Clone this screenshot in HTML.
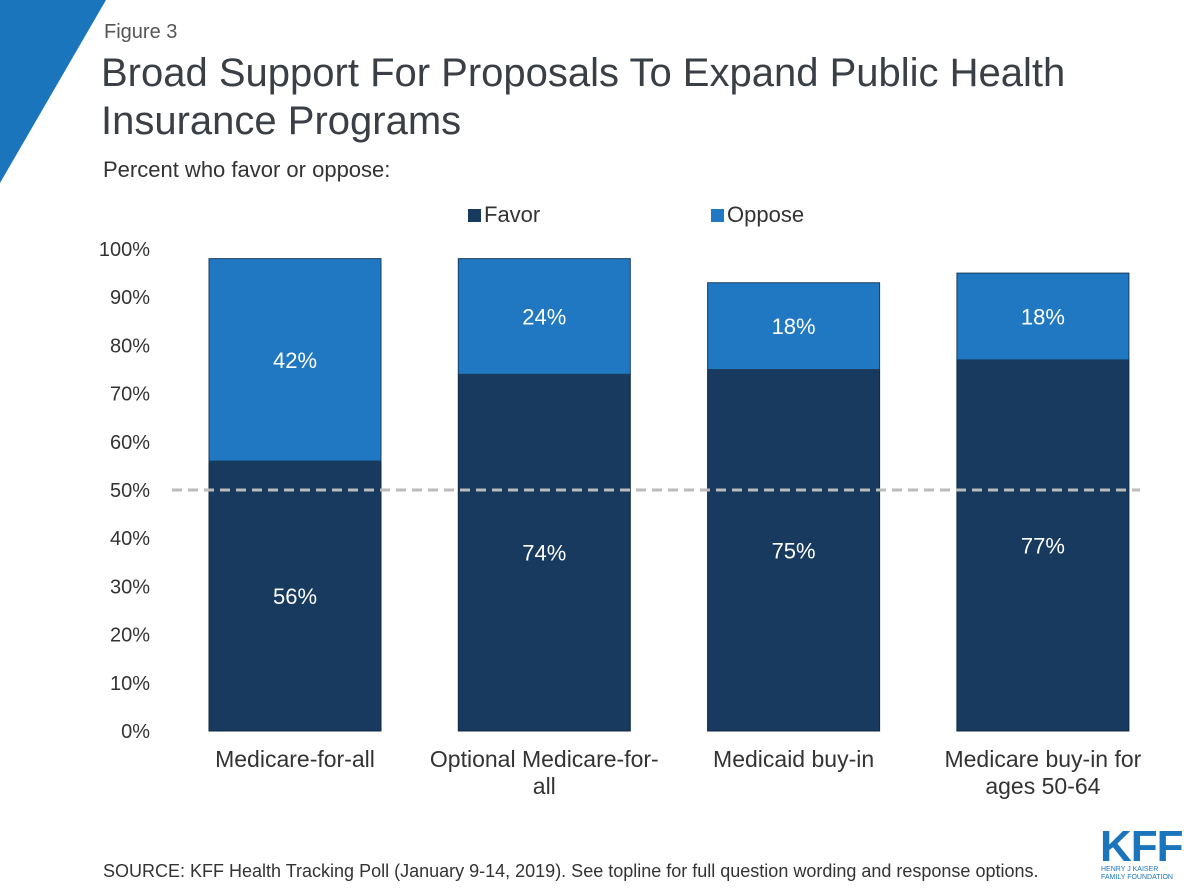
<!DOCTYPE html>
<html><head><meta charset="utf-8"><style>
body{margin:0;width:1200px;height:895px;background:#fff;font-family:"Liberation Sans",sans-serif;position:relative;overflow:hidden;color:#333}
.t{position:absolute;white-space:nowrap}
</style></head><body>
<svg width="1200" height="895" style="position:absolute;left:0;top:0">
<polygon points="0,0 106,0 0,183" fill="#1b75bc"/>
<g id="plot"></g>
</svg>
<div class="t" style="left:104px;top:21px;font-size:20px;color:#555">Figure 3</div>
<div class="t" style="left:101px;top:49px;font-size:40px;line-height:48px;color:#3a3f45">Broad Support For Proposals To Expand Public Health<br>Insurance Programs</div>
<div class="t" style="left:103px;top:157px;font-size:22px;color:#333">Percent who favor or oppose:</div>
<div class="t" style="left:468px;top:202px;font-size:22px"><span style="display:inline-block;width:13px;height:13px;background:#173a5e;margin-right:3px"></span>Favor</div>
<div class="t" style="left:711px;top:202px;font-size:22px"><span style="display:inline-block;width:13px;height:13px;background:#1f78c1;margin-right:3px"></span>Oppose</div>
<div class="t" style="left:103px;top:861px;font-size:18px;color:#333">SOURCE: KFF Health Tracking Poll (January 9-14, 2019). See topline for full question wording and response options.</div>
<div class="t" style="left:1100px;top:822px;font-size:44px;font-weight:bold;color:#1b75bc;letter-spacing:-1px">KFF</div>
<div class="t" style="left:1101px;top:866px;font-size:7px;line-height:8px;color:#1b75bc">HENRY J KAISER<br>FAMILY FOUNDATION</div>
<script>
const categories=["Medicare-for-all","Optional Medicare-for-|all","Medicaid buy-in","Medicare buy-in for|ages 50-64"];
const favor=[56,74,75,77];
const oppose=[42,24,18,18];
const yTicks=[0,10,20,30,40,50,60,70,80,90,100];
const ns="http://www.w3.org/2000/svg";
const g=document.getElementById('plot');
const y0=731,pxPer=4.82;
const y=v=>y0-v*pxPer;
const barX=i=>209+i*249.3, bw=172;
function el(tag,attrs,text){const e=document.createElementNS(ns,tag);for(const k in attrs)e.setAttribute(k,attrs[k]);if(text!=null)e.textContent=text;g.appendChild(e);return e;}
yTicks.forEach(t=>{
  const e=el('text',{x:150,y:y(t)+7,'text-anchor':'end','font-size':20,fill:'#333','font-family':'Liberation Sans, sans-serif'},t+'%');
  
  
});
categories.forEach((c,i)=>{
  const x=barX(i);
  const f=el('rect',{x:x,y:y(favor[i]),width:bw,height:favor[i]*pxPer,fill:'#173a5e',stroke:'#0f2a45','stroke-width':1});
  
  
  const o=el('rect',{x:x,y:y(favor[i]+oppose[i]),width:bw,height:oppose[i]*pxPer,fill:'#1f78c1',stroke:'#1a3d60','stroke-width':1});
  
  
  const fl=el('text',{x:x+bw/2,y:y(favor[i]/2)+8,'text-anchor':'middle','font-size':22,fill:'#fff','font-family':'Liberation Sans, sans-serif'},favor[i]+'%');
  
  
  const ol=el('text',{x:x+bw/2,y:y(favor[i]+oppose[i]/2)+8,'text-anchor':'middle','font-size':22,fill:'#fff','font-family':'Liberation Sans, sans-serif'},oppose[i]+'%');
  
  
  c.split('|').forEach((line,j)=>{
    const cl=el('text',{x:x+bw/2,y:767+j*27,'text-anchor':'middle','font-size':23,fill:'#333','font-family':'Liberation Sans, sans-serif'},line);
    
    
  });
});
const ref=el('line',{x1:172,x2:1140,y1:y(50),y2:y(50),stroke:'#bbb','stroke-width':3,'stroke-dasharray':'10,6'});


</script>
</body></html>
